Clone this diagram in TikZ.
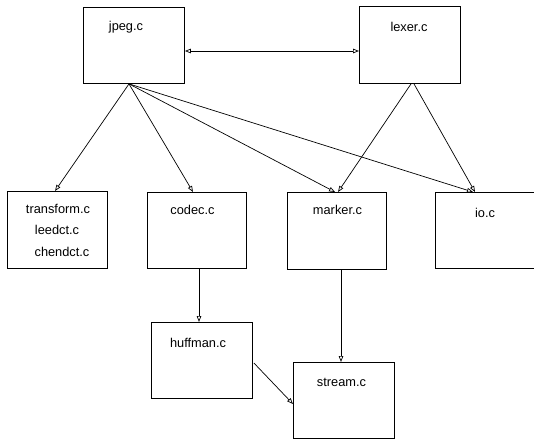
\documentclass[tikz,border=0pt]{standalone}
\usepackage{fontspec}
\setmainfont{Liberation Sans}
\usetikzlibrary{arrows.meta,calc}
\begin{document}
\begin{tikzpicture}[x=1pt,y=-1pt,
  box/.style={draw, line width=0.9pt, minimum width=#1, anchor=north west, inner sep=0pt},
  lbl/.style={anchor=base, inner sep=0pt, font=\fontsize{12.8}{15}\selectfont},
  conn/.style={line width=0.7pt, -{Triangle[open,length=6pt,width=4.5pt]}},
  dconn/.style={line width=0.7pt, {Triangle[open,length=6pt,width=4.5pt]}-{Triangle[open,length=6pt,width=4.5pt]}}]
\useasboundingbox (0,0) rectangle (534,439);
\node[box=101pt, minimum height=76pt] (jpeg) at (83,7) {};
\node[box=101pt, minimum height=77pt] (lexer) at (359,6) {};
\node[box=100pt, minimum height=77pt] (transform) at (7,191) {};
\node[box=99pt, minimum height=76pt] (codec) at (147,192) {};
\node[box=99pt, minimum height=77pt] (marker) at (287,192) {};
\node[box=103pt, minimum height=76pt] (io) at (435,192) {};
\node[box=101pt, minimum height=76pt] (huffman) at (151,322) {};
\node[box=101pt, minimum height=76pt] (stream) at (293,362) {};

\node[lbl] (tjpeg) at (126,30) {jpeg.c};
\node[lbl] (tlexer) at (409,31) {lexer.c};
\node[lbl] (ttransform) at (58,213) {transform.c};
\node[lbl] (tleedct) at (57,234) {leedct.c};
\node[lbl] (tchendct) at (62,256) {chendct.c};
\node[lbl] (tcodec) at (192.5,214) {codec.c};
\node[lbl] (tmarker) at (337.5,214) {marker.c};
\node[lbl] (tio) at (485,217) {io.c};
\node[lbl] (thuffman) at (198,347) {huffman.c};
\node[lbl] (tstream) at (341.5,386) {stream.c};

\draw[dconn] ($(jpeg.north east)+(0,44)$) -- ($(lexer.north west)+(0,45)$);
\draw[conn] ($(jpeg.south west)+(46,0)$) -- ($(transform.north west)+(48,0)$);
\draw[conn] ($(jpeg.south west)+(46,0)$) -- ($(codec.north west)+(46,0)$);
\draw[conn] ($(jpeg.south west)+(46,0)$) -- ($(marker.north west)+(48,0)$);
\draw[conn] ($(jpeg.south west)+(46,0)$) -- ($(io.north west)+(38,0)$);
\draw[conn] ($(lexer.south west)+(52,0)$) -- ($(marker.north west)+(51,0)$);
\draw[conn] ($(lexer.south west)+(55,0)$) -- ($(io.north west)+(40,0)$);
\draw[conn] ($(codec.south west)+(52,0)$) -- ($(huffman.north west)+(48,0)$);
\draw[conn] ($(marker.south west)+(54,0)$) -- ($(stream.north west)+(48,0)$);
\draw[conn] ($(huffman.north east)+(1,41)$) -- ($(stream.north west)+(0,42)$);
\end{tikzpicture}
\end{document}
